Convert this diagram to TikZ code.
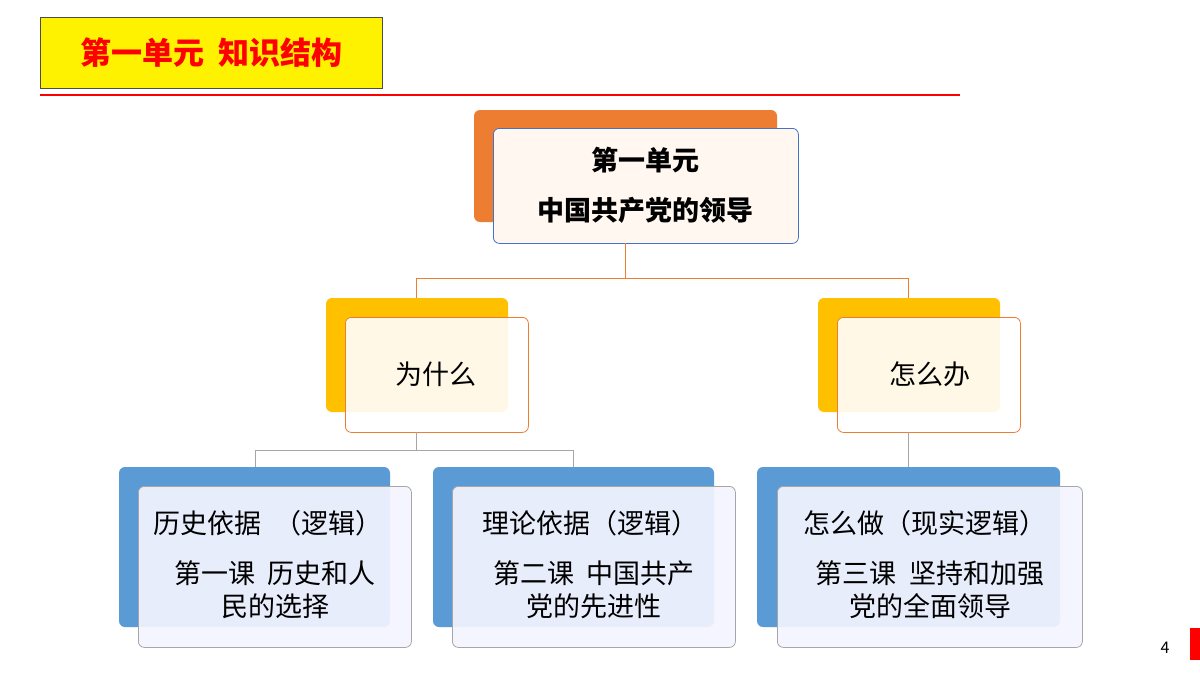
\documentclass[tikz,border=0pt]{standalone}
\usepackage{fontspec}
\setmainfont{Noto Sans CJK SC}
\definecolor{ob}{HTML}{ED7D31}
\definecolor{yb}{HTML}{FFC000}
\definecolor{bb}{HTML}{5B9BD5}
\definecolor{bl}{HTML}{4472C4}
\begin{document}
\begin{tikzpicture}[x=1pt,y=-1pt,
 back/.style={rounded corners=6pt},
 front/.style={rounded corners=6pt,line width=0.8pt},
 t/.style={font=\fontsize{27}{32}\selectfont,anchor=center,inner sep=0pt},
 oc/.style={draw=ob,line width=1pt},
 gc/.style={draw=gray!70,line width=1pt}]
\useasboundingbox (0,0) rectangle (1200,675);
\fill[white] (0,0) rectangle (1200,675);
\node[draw=black!70,fill=yellow,line width=1pt,minimum width=342pt,minimum height=71pt,anchor=north west] (title) at (40,17) {};
\node[t,font=\fontsize{31}{36}\selectfont\bfseries,text=red] at (title.center) {第一单元\ \ 知识结构};
\coordinate (l1) at (40,95); \coordinate (l2) at (960,95);
\draw[red,line width=1.2pt] (l1)--(l2);
% top
\fill[back,fill=ob] (474,110) rectangle (777,222);
\node[front,draw=bl,fill=orange!6,minimum width=305pt,minimum height=115pt,anchor=north west] (top) at (493,128) {};
\node[t,font=\fontsize{27}{32}\selectfont\bfseries] at (645,160) {第一单元};
\node[t,font=\fontsize{27}{32}\selectfont\bfseries] at (645,210) {中国共产党的领导};
% mid
\fill[back,fill=yb] (326,298) rectangle (508,412);
\node[front,draw=ob,fill=white,fill opacity=0.9,minimum width=183pt,minimum height=115pt,anchor=north west] (m1) at (345,317) {};
\node[t] at (436,374) {为什么};
\fill[back,fill=yb] (818,298) rectangle (1000,412);
\node[front,draw=ob,fill=white,fill opacity=0.9,minimum width=183pt,minimum height=115pt,anchor=north west] (m2) at (837,317) {};
\node[t] at (930,374) {怎么办};
% connectors
\coordinate (ta) at (625,243);
\coordinate (ja) at (625,278);
\coordinate (jl) at (416,278); \coordinate (jr) at (908,278);
\coordinate (bl) at (416,298); \coordinate (br) at (908,298);
\draw[oc] (ta)--(ja); \draw[oc] (jl)--(jr); \draw[oc] (jl)--(bl); \draw[oc] (jr)--(br);
% bottom
\fill[back,fill=bb] (119,467) rectangle (390,627);
\fill[back,fill=bb] (433,467) rectangle (714,627);
\fill[back,fill=bb] (757,467) rectangle (1060,627);
\node[front,draw=gray!70,fill=blue!4,fill opacity=0.92,minimum width=273pt,minimum height=161pt,anchor=north west] (b1) at (138,486) {};
\node[front,draw=gray!70,fill=blue!4,fill opacity=0.92,minimum width=283pt,minimum height=161pt,anchor=north west] (b2) at (452,486) {};
\node[front,draw=gray!70,fill=blue!4,fill opacity=0.92,minimum width=305pt,minimum height=161pt,anchor=north west] (b3) at (777,486) {};
\coordinate (ma) at (416,432); \coordinate (mj) at (416,450);
\coordinate (g1) at (255,450); \coordinate (g2) at (573,450);
\coordinate (h1) at (255,467); \coordinate (h2) at (573,467);
\coordinate (mb) at (908,432); \coordinate (h3) at (908,467);
\draw[gc] (ma)--(mj); \draw[gc] (g1)--(g2); \draw[gc] (g1)--(h1); \draw[gc] (g2)--(h2); \draw[gc] (mb)--(h3);
\node[t] at (268,523) {历史依据\ \ （逻辑）};
\node[t] at (275,573) {第一课\ \ 历史和人};
\node[t] at (275,606) {民的选择};
\node[t] at (590,523) {理论依据（逻辑）};
\node[t] at (594,573) {第二课\ \ 中国共产};
\node[t] at (594,606) {党的先进性};
\node[t] at (925,523) {怎么做（现实逻辑）};
\node[t] at (930,573) {第三课\ \ 坚持和加强};
\node[t] at (930,606) {党的全面领导};
\node[t,font=\fontsize{16}{18}\selectfont] at (1165,648) {4};
\fill[red] (1190,628) rectangle (1200,660);
\end{tikzpicture}
\end{document}
